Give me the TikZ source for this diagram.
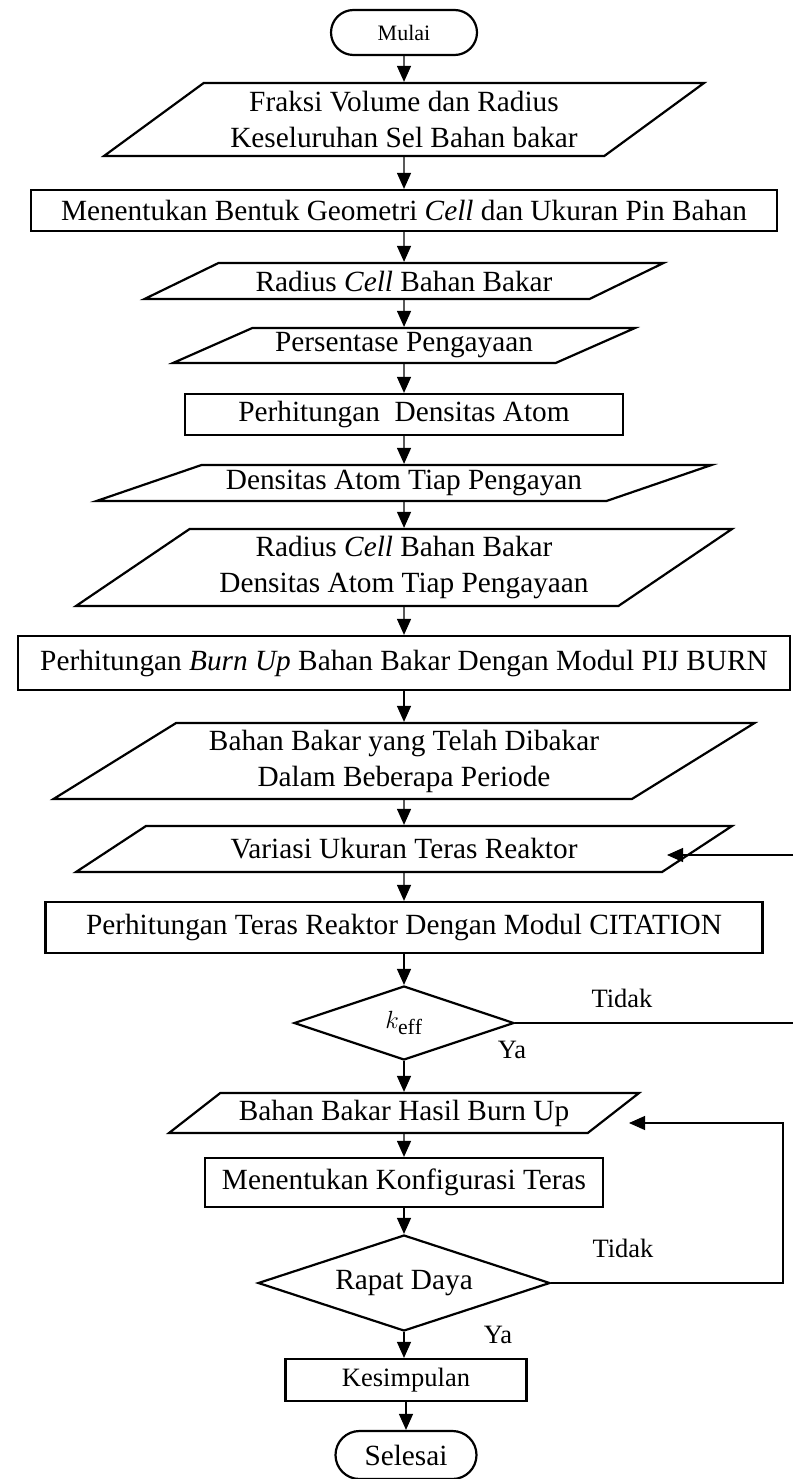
\documentclass[tikz,border=0pt]{standalone}
\usepackage{fontspec}
\setmainfont{Liberation Serif}
\usetikzlibrary{shapes.geometric, shapes.misc, arrows.meta}

\begin{document}
\begin{tikzpicture}[x=1pt, y=-1pt,
  >={Triangle[width=14pt,length=16pt]},
  font=\fontsize{29.3}{36}\selectfont,
  block/.style={rectangle, draw, line width=2.2pt, inner sep=2pt},
  io/.style 2 args={trapezium, trapezium left angle=#1, trapezium right angle=#2,
      trapezium stretches body, draw, line width=2.2pt, inner sep=2pt, align=center},
  term/.style={rounded rectangle, draw, line width=2.2pt,
      minimum width=150, minimum height=45, inner sep=2pt},
  decision/.style={diamond, aspect=3, draw, line width=2.2pt, inner sep=0pt},
  lbl/.style={font=\fontsize{26.5}{31}\selectfont, inner sep=0pt},
  flow/.style={->, line width=1.3pt},
  back/.style={line width=1.1pt}]
 \useasboundingbox (0,0) rectangle (793,1479);

 \node[term, font=\fontsize{22}{26}\selectfont] (mulai) at (404,32.5) {Mulai};
 \node[io={31.3}{148.7}, minimum width=600, minimum height=73] (fraksi) at (404,119.5)
      {Fraksi Volume dan Radius\\ Keseluruhan Sel Bahan bakar};
 \node[block, minimum width=746, minimum height=41] (bentuk) at (404,210.5)
      {Menentukan Bentuk Geometri \textit{Cell} dan Ukuran Pin Bahan};
 \node[io={18.4}{161.6}, minimum width=519, minimum height=36] (radius) at (404,281)
      {Radius \textit{Cell} Bahan Bakar};
 \node[io={20.4}{159.6}, minimum width=462, minimum height=35] (persen) at (404,345.5)
      {Persentase Pengayaan};
 \node[block, minimum width=438, minimum height=41] (hitdens) at (404,414.5)
      {Perhitungan\ \ Densitas Atom};
 \node[io={15.8}{164.2}, minimum width=615, minimum height=36] (densatom) at (404,483)
      {Densitas Atom Tiap Pengayan};
 \node[io={30.4}{149.6}, minimum width=656, minimum height=77] (radens) at (404,567.5)
      {Radius \textit{Cell} Bahan Bakar\\ Densitas Atom Tiap Pengayaan};
 \node[block, minimum width=772, minimum height=54] (burnup) at (404,663)
      {Perhitungan \textit{Burn Up} Bahan Bakar Dengan Modul PIJ BURN};
 \node[io={28.5}{151.5}, minimum width=701, minimum height=76] (dibakar) at (404,761)
      {Bahan Bakar yang Telah Dibakar\\ Dalam Beberapa Periode};
 \node[io={19.5}{160.5}, minimum width=656, minimum height=46] (variasi) at (404,849)
      {Variasi Ukuran Teras Reaktor};
 \node[block, minimum width=717, minimum height=51] (citation) at (404,927.5)
      {Perhitungan Teras Reaktor Dengan Modul CITATION};
 \node[decision, minimum width=220, minimum height=74, font=\fontsize{31}{36}\selectfont] (keff) at (404,1023)
      {$k_{\mathrm{eff}}$};
 \node[io={30.8}{149.2}, minimum width=470, minimum height=40] (hasil) at (404,1113)
      {Bahan Bakar Hasil Burn Up};
 \node[block, minimum width=398, minimum height=49] (konfig) at (404,1182.5)
      {Menentukan Konfigurasi Teras};
 \node[decision, minimum width=292, minimum height=96] (rapat) at (404,1283)
      {Rapat Daya};
 \node[block, minimum width=241, minimum height=42, font=\fontsize{26.5}{31}\selectfont] (kesimpulan) at (406,1380)
      {Kesimpulan};
 \node[term, minimum width=145, minimum height=48] (selesai) at (406,1455) {Selesai};

 \node[lbl] (tidakk) at (622,998) {Tidak};
 \node[lbl] (yak) at (512,1050) {Ya};
 \node[lbl] (tidakr) at (623,1248) {Tidak};
 \node[lbl] (yar) at (498,1335) {Ya};

 \coordinate (tidakend) at (793,1023);
 \coordinate (variasisrc) at (793,855);
 \coordinate (variasiin) at (667,855);
 \coordinate (loopcorner) at (783,1123);
 \coordinate (hasilin) at (629,1123);

 \draw[flow] (mulai) -- (fraksi);
 \draw[flow] (fraksi) -- (bentuk);
 \draw[flow] (bentuk) -- (radius);
 \draw[flow] (radius) -- (persen);
 \draw[flow] (persen) -- (hitdens);
 \draw[flow] (hitdens) -- (densatom);
 \draw[flow] (densatom) -- (radens);
 \draw[flow] (radens) -- (burnup);
 \draw[flow] (burnup) -- (dibakar);
 \draw[flow] (dibakar) -- (variasi);
 \draw[flow] (variasi) -- (citation);
 \draw[flow] (citation) -- (keff);
 \draw[flow] (keff) -- (hasil);
 \draw[flow] (hasil) -- (konfig);
 \draw[flow] (konfig) -- (rapat);
 \draw[flow] (rapat.south) -- (rapat.south |- kesimpulan.north);
 \draw[flow] (kesimpulan.south) -- (kesimpulan.south |- selesai.north);

 \draw[back] (keff.east) -- (tidakend);
 \draw[flow, back] (variasisrc) -- (variasiin);
 \draw[flow, back] (rapat.east) -| (loopcorner) -- (hasilin);

\end{tikzpicture}
\end{document}
